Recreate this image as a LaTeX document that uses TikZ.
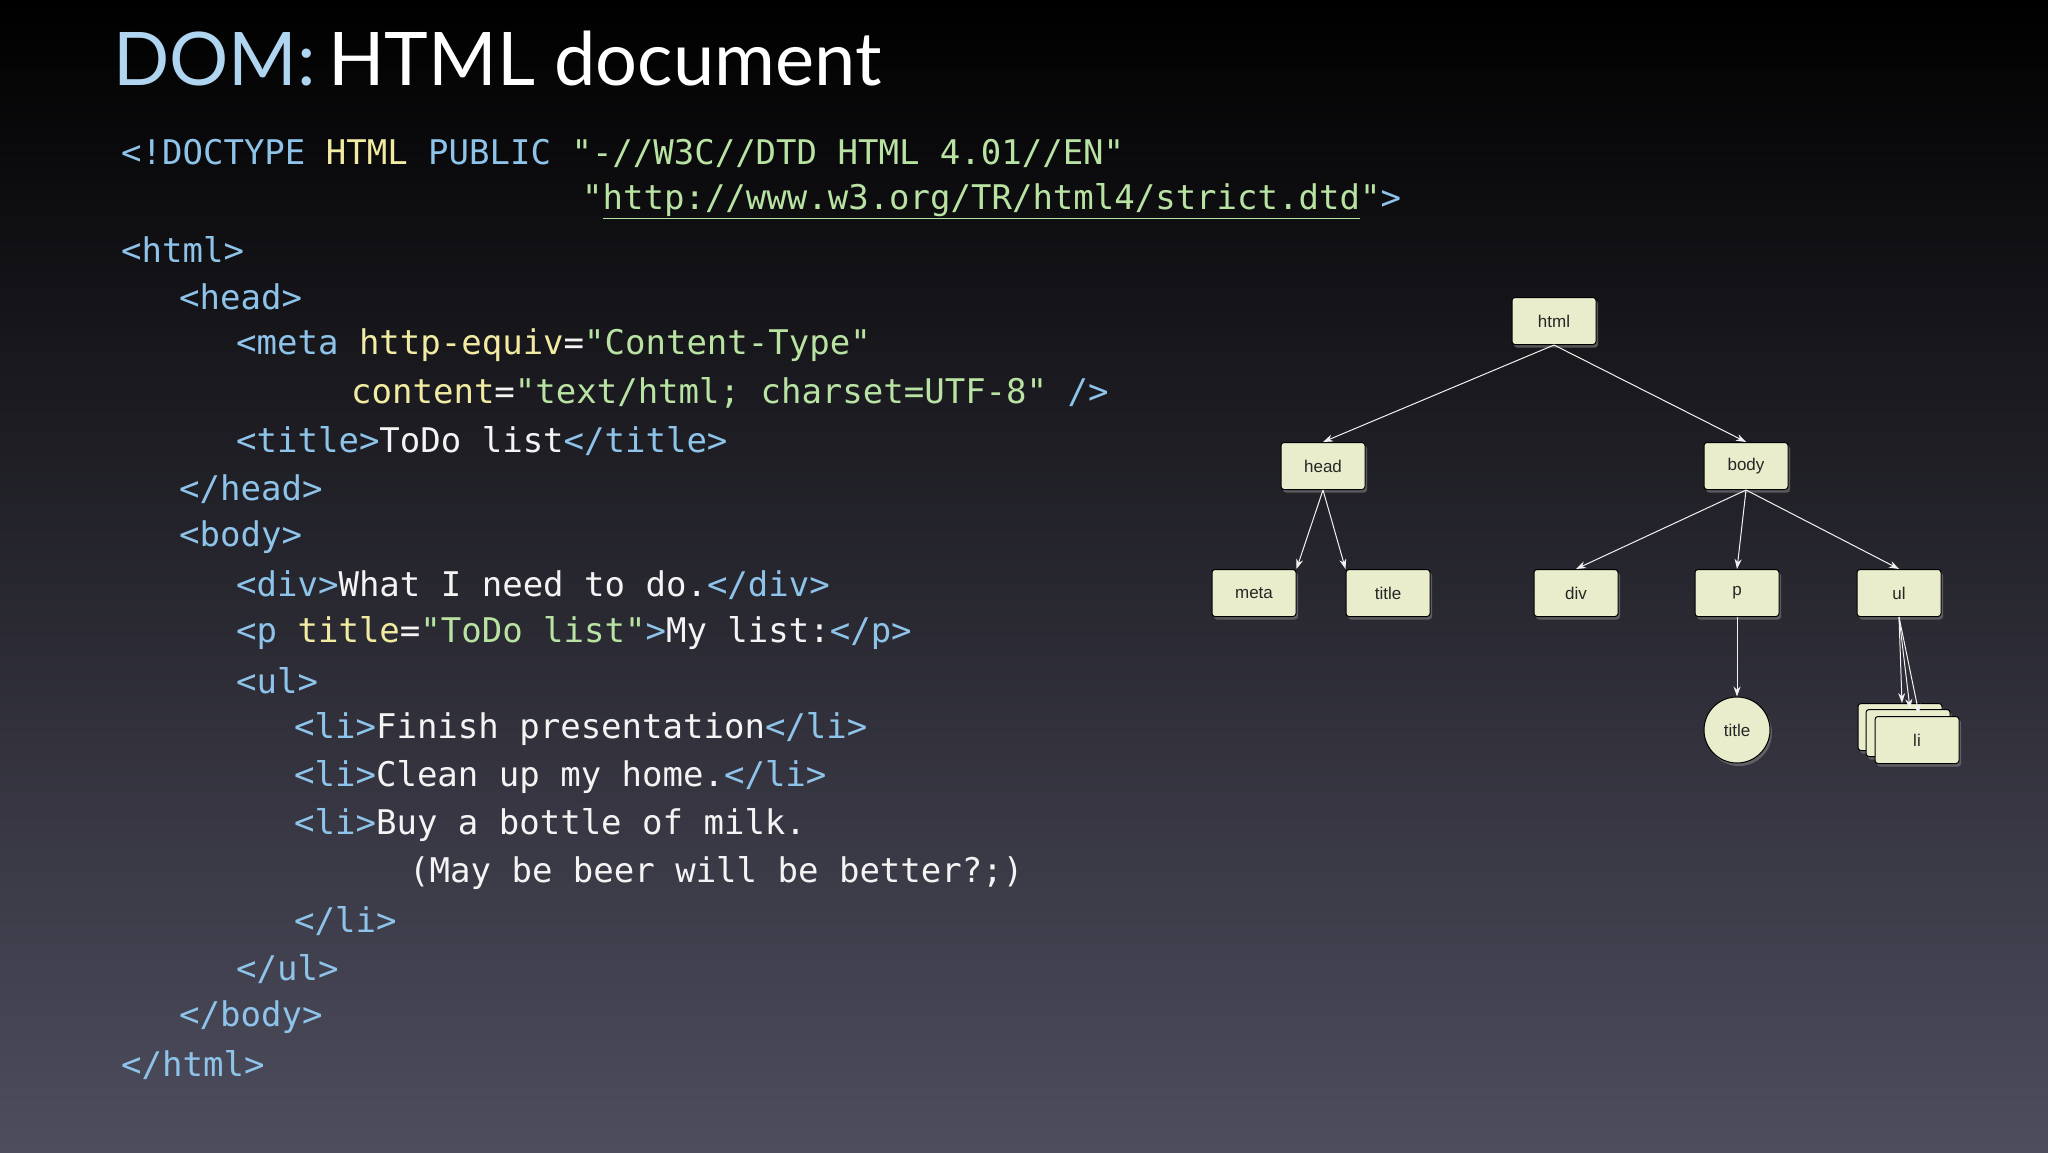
\documentclass[tikz,border=0pt]{standalone}
\usepackage{fontspec}
\setmainfont{Lato}
\setmonofont{DejaVu Sans Mono}
\newfontfamily\nodefont{Liberation Sans}
\usetikzlibrary{shadows,arrows.meta}
\definecolor{cb}{HTML}{8EC3EA}
\definecolor{cy}{HTML}{F2ECA2}
\definecolor{cg}{HTML}{B9E3A2}
\definecolor{cw}{HTML}{F4F4F4}
\definecolor{bgtop}{HTML}{000000}
\definecolor{bgbot}{HTML}{4E4D5E}
\definecolor{nfill}{HTML}{E9EDCB}
\newcommand{\B}[1]{\textcolor{cb}{#1}}
\newcommand{\Y}[1]{\textcolor{cy}{#1}}
\newcommand{\G}[1]{\textcolor{cg}{#1}}
\newcommand{\W}[1]{\textcolor{cw}{#1}}
\tikzset{
  codeline/.style={anchor=west,inner sep=0pt,font=\fontsize{34}{40}\ttfamily},
  tnode/.style={draw=black,line width=1pt,fill=nfill,rounded corners=3pt,minimum width=84pt,minimum height=47pt,font=\nodefont\fontsize{17}{20}\selectfont,text=black!85,drop shadow={shadow xshift=2pt,shadow yshift=-3pt,opacity=0.6}},
  tcirc/.style={tnode,circle,minimum size=66pt,inner sep=0pt},
  edge/.style={draw=white!90!gray,line width=1pt,-{Stealth[length=10pt,width=7pt]}}
}
\begin{document}
\begin{tikzpicture}[x=1pt,y=-1pt]
\shade[top color=bgtop,bottom color=bgbot] (0,0) rectangle (2048,1152);
\useasboundingbox (0,0) rectangle (2048,1152);
\node[anchor=west,inner sep=0pt,font=\fontsize{74}{80}\selectfont] (title) at (113,59) {\textcolor{cb!70!white}{DOM:}\,\textcolor{white}{HTML document}};
% code
\def\L{48}
\node[codeline] (c1) at (121,153) {\B{<!DOCTYPE} \Y{HTML} \B{PUBLIC} \G{"-//W3C//DTD HTML 4.01//EN"}};
\node[codeline] (c2) at (582,201) {\G{"\underline{http://www.w3.org/TR/html4/strict.dtd}"}\B{>}};
\node[codeline] (c3) at (121,249) {\B{<html>}};
\node[codeline] (c4) at (179,297) {\B{<head>}};
\node[codeline] (c5) at (236,345) {\B{<meta} \Y{http-equiv}\W{=}\G{"Content-Type"}};
\node[codeline] (c6) at (351,393) {\Y{content}\W{=}\G{"text/html; charset=UTF-8"} \B{/>}};
\node[codeline] (c7) at (236,441) {\B{<title>}\W{ToDo list}\B{</title>}};
\node[codeline] (c8) at (179,489) {\B{</head>}};
\node[codeline] (c9) at (179,537) {\B{<body>}};
\node[codeline] (c10) at (236,585) {\B{<div>}\W{What I need to do.}\B{</div>}};
\node[codeline] (c11) at (236,633) {\B{<p} \Y{title}\W{=}\G{"ToDo list"}\B{>}\W{My list:}\B{</p>}};
\node[codeline] (c12) at (236,681) {\B{<ul>}};
\node[codeline] (c13) at (294,729) {\B{<li>}\W{Finish presentation}\B{</li>}};
\node[codeline] (c14) at (294,777) {\B{<li>}\W{Clean up my home.}\B{</li>}};
\node[codeline] (c15) at (294,825) {\B{<li>}\W{Buy a bottle of milk.}};
\node[codeline] (c16) at (409,873) {\W{(May be beer will be better?;)}};
\node[codeline] (c17) at (294,921) {\B{</li>}};
\node[codeline] (c18) at (236,969) {\B{</ul>}};
\node[codeline] (c19) at (179,1017) {\B{</body>}};
\node[codeline] (c20) at (121,1065) {\B{</html>}};
% tree
\node[tnode] (html) at (1554,321) {html};
\node[tnode] (head) at (1323,466) {head};
\node[tnode] (body) at (1746,466) {body};
\node[tnode] (meta) at (1254,593) {meta};
\node[tnode] (ttl) at (1388,593) {title};
\node[tnode] (div) at (1576,593) {div};
\node[tnode] (p) at (1737,593) {p};
\node[tnode] (ul) at (1899,593) {ul};
\node[tcirc] (pt) at (1737,730) {title};
\node[tnode] (li1) at (1900,727) {};
\node[tnode] (li2) at (1908,733) {};
\node[tnode] (li3) at (1917,740) {li};
\draw[edge] (html.south) -- (head.north);
\draw[edge] (html.south) -- (body.north);
\draw[edge] (head.south) -- (meta.north east);
\draw[edge] (head.south) -- (ttl.north west);
\draw[edge] (body.south) -- (div.north);
\draw[edge] (body.south) -- (p.north);
\draw[edge] (body.south) -- (ul.north);
\draw[edge] (p.south) -- (pt.north);
\draw[edge] (ul.south) -- ([xshift=2pt]li1.north);
\draw[edge] (ul.south) -- ([xshift=2pt]li2.north);
\draw[edge] (ul.south) -- ([xshift=2pt,yshift=2pt]li3.north);
\end{tikzpicture}
\end{document}
